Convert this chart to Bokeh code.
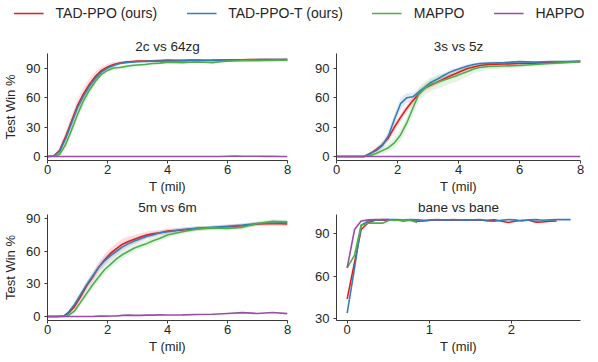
from bokeh.plotting import figure
from bokeh.layouts import column, row
from bokeh.models import Legend, LegendItem, FixedTicker, Range1d
from bokeh.embed import file_html
from bokeh.resources import INLINE

# ---------------- data ----------------
methods = ["TAD-PPO (ours)", "TAD-PPO-T (ours)", "MAPPO", "HAPPO"]
colors = ["#e41a1c", "#377eb8", "#4daf4a", "#984ea3"]

# 2c vs 64zg
x_2c = [0, 0.2, 0.4, 0.6, 0.8, 1.0, 1.2, 1.4, 1.6, 1.8, 2.0, 2.2, 2.4, 2.6, 2.8, 3.0, 3.25, 3.5,
        3.75, 4, 4.25, 4.5, 4.75, 5, 5.25, 5.5, 5.75, 6, 6.25, 6.5, 6.75, 7, 7.25, 7.5, 7.75, 8]
red_2c = [0, 0.5, 6, 20, 36, 52, 64, 74, 82, 88, 91.5, 94, 95.5, 96.5, 97, 97.5, 97.6, 97.8,
          98.2, 98.5, 98.3, 98.4, 98.6, 98.6, 98.4, 98.5, 98.7, 98.8, 98.9, 98.9, 99, 99, 99.1, 99, 99.2, 99.2]
blue_2c = [0, 0.5, 5, 18, 34, 50, 62, 72, 80, 86.5, 90.5, 93, 95, 96, 96.5, 97, 97.2, 97.5,
           97.5, 97.6, 97.7, 97.8, 97.9, 98, 98.1, 98.2, 98.3, 98.5, 98.6, 98.8, 98.9, 99, 99.1, 99.2, 99.2, 99.3]
green_2c = [0, 0.2, 2, 12, 27, 43, 57, 68, 77, 84, 88, 90.5, 91, 92, 93, 93.5, 94, 95,
            95.5, 96.5, 96.2, 96, 96.3, 96.5, 96.3, 96, 96.8, 97.5, 97.8, 98, 98, 98, 98.2, 98.3, 98.4, 98.5]
purple_2c = [0, 0, 0, 0, 0, 0, 0, 0, 0, 0, 0, 0, 0, 0, 0, 0, 0, 0,
             0, 0, 0, 0, 0, 0, 0, 0, 0, 0.3, 0.4, 0.3, 0.2, 0.2, 0.1, 0.1, 0, 0]
red_sd_2c = [0, 0.5, 3, 5, 6, 6.5, 6.5, 6, 5, 4, 3, 2.5, 2, 1.5, 1, 1, 1, 1,
             1, 1, 1, 1, 1, 1, 1, 1, 1, 1, 1, 1, 1, 1, 1, 1, 1, 1]
blue_sd_2c = [0, 0.5, 2, 3, 3.5, 3.5, 3.5, 3, 2.5, 2, 1.5, 1.2, 1, 1, 1, 1, 1, 1,
              1, 1, 1, 1, 1, 1, 1, 1, 1, 1, 1, 1, 1, 1, 1, 1, 1, 1]
green_sd_2c = [0, 0.3, 2, 4, 5, 5, 5, 4.5, 4, 3, 2.5, 2, 2, 1.5, 1.5, 1.5, 1.5, 1.5,
               1.5, 1.5, 1, 1, 1, 1, 1, 1, 1, 1, 1, 1, 1, 1, 1, 1, 1, 1]

# 3s vs 5z
x_3s = [0, 0.5, 0.9, 1.1, 1.3, 1.5, 1.7, 1.9, 2.1, 2.3, 2.5, 2.7, 2.9, 3.1, 3.3, 3.5, 3.7, 3.9,
        4.1, 4.3, 4.5, 4.7, 5.0, 5.5, 6.0, 6.5, 7.0, 7.5, 8.0]
red_3s = [0, 0, 0, 3, 7, 12, 19, 30, 40, 49, 57, 64, 70, 73, 76, 79, 82, 84.5,
          87.5, 90, 91.5, 93, 94, 94.5, 95, 95.5, 96, 96.5, 97]
blue_3s = [0, 0, 0, 3, 6, 11, 21, 38, 54, 60, 61, 66, 71, 76, 79, 82.5, 86, 88.5,
           90.5, 92.5, 94, 95, 95.5, 96, 97, 96.5, 97, 97, 97.5]
green_3s = [0, 0, 0, 1, 3, 6, 9, 14, 22, 34, 49, 64, 70, 74, 76, 78, 80, 82,
            84.5, 87, 89.5, 91, 92, 92.5, 93, 94, 95, 96, 97]
purple_3s = [0, 0, 0, 0, 0, 0, 0, 0, 0, 0, 0, 0, 0, 0, 0, 0, 0, 0,
             0, 0, 0, 0, 0, 0, 0, 0, 0, 0, 0]
red_sd_3s = [0, 0, 0, 1.5, 2.5, 3, 3.5, 4, 4, 4, 4, 3.5, 3, 3, 3, 2.5, 2.5, 2.5,
             2, 2, 2, 1.5, 1.5, 1.5, 1.5, 1, 1, 1, 1]
blue_sd_3s = [0, 0, 0, 1.5, 2.5, 3.5, 5, 6, 6, 5, 4, 3.5, 3, 3, 3, 2.5, 2.5, 2,
              2, 2, 1.5, 1.5, 1.5, 1, 1, 1, 1, 1, 1]
green_sd_3s = [0, 0, 0, 1, 2, 3, 4, 5, 6, 6, 7, 7, 7, 7, 7, 6.5, 6, 6,
               5.5, 5, 4.5, 4, 3, 2.5, 2, 2, 2, 1.5, 1.5]

# 5m vs 6m
x_5m = [0, 0.3, 0.55, 0.7, 0.9, 1.1, 1.3, 1.5, 1.7, 1.9, 2.1, 2.3, 2.5, 2.7, 2.9, 3.1, 3.3, 3.5,
        3.75, 4, 4.5, 5, 5.5, 6, 6.5, 7, 7.5, 8]
red_5m = [0, 0, 0.5, 3, 9, 18, 28, 36, 45, 52, 58, 62.5, 66.5, 69, 71, 73, 75, 76,
          77, 78.5, 79.5, 81, 81.5, 82.5, 83.5, 85, 85.5, 85]
blue_5m = [0, 0, 0.5, 4, 11, 20, 29, 37, 45, 51, 56, 60, 64, 67, 69.5, 71.5, 73.5, 75,
           77, 78, 80, 81, 82, 83, 84, 85.5, 86, 86.5]
green_5m = [0, 0, 0, 1, 5, 13, 21, 29, 36, 43, 48, 53, 57, 60, 63, 65, 67, 69.5,
            72, 75, 78, 80.5, 81.5, 81, 82, 85.5, 87.5, 87]
purple_5m = [0, 0, 0, 0, 0, 0, 0, 0, 0.3, 0.3, 0.5, 0.5, 1, 1.2, 1, 1, 1.2, 1.2,
             1.5, 1.3, 1.5, 1.8, 2, 2.8, 3.5, 2.8, 3.6, 2.6]
red_sd_5m = [0, 0, 0.5, 1.5, 2.5, 3, 3.5, 4, 4.5, 5, 5, 5, 5, 4.5, 4, 3.5, 3, 3,
             2.5, 2.5, 2, 2, 2, 2, 2, 2, 2, 2]
blue_sd_5m = [0, 0, 0.5, 1.5, 2.5, 3, 3.5, 4, 4, 4, 4, 4, 3.5, 3.5, 3, 3, 2.5, 2.5,
              2, 2, 2, 2, 1.5, 1.5, 1.5, 1.5, 1.5, 1.5]
green_sd_5m = [0, 0, 0, 1, 2, 3, 3.5, 4, 4, 4, 4, 4, 4, 3.5, 3.5, 3, 3, 3,
               2.5, 2.5, 2, 2, 2, 2, 2, 2, 2, 2]

# bane vs bane
x_bane = [0, 0.09, 0.17, 0.26, 0.34, 0.43, 0.51, 0.6, 0.68, 0.77, 0.85, 0.94, 1.02, 1.11, 1.19,
          1.28, 1.36, 1.45, 1.53, 1.62, 1.7, 1.79, 1.87, 1.96, 2.04, 2.13, 2.21, 2.3, 2.38, 2.47,
          2.55, 2.64, 2.72]
red_bane = [44, 70, 93, 98, 99.5, 99.8, 99.5, 99.8, 99, 99.5, 98.8, 99, 99.5, 99.5, 99.8,
            99.5, 99.5, 99.8, 99.5, 99.8, 99.5, 99.8, 99, 98, 98.8, 99.5, 99.5, 98.2, 98.3, 98.8,
            99]
blue_bane = [34, 66, 96, 99, 99.5, 100, 100, 100, 99.8, 100, 99.8, 99.5, 99.8, 100, 99.5,
             100, 99.8, 99.5, 99.8, 100, 99, 98.8, 99.5, 100, 99.8, 99, 99.8, 100, 99.5, 99.8,
             100, 100, 100]
green_bane = [66, 75, 96, 97.5, 97.5, 97.5, 99.5, 99.5, 99.5, 99.5, 98]
purple_bane = [66, 93, 99, 99.8, 100, 100, 100]

# ---------------- style ----------------
FONT = "Liberation Sans"
TXT = "#262626"
AXC = "#3a3a3a"
LW = 1.6


def band(y, sd, sign):
    return [a + sign * b for a, b in zip(y, sd)]


def panel(title, series, xr, yr, xticks, yticks, width, height, mb, ylabel):
    p = figure(width=width, height=height, x_range=Range1d(*xr), y_range=Range1d(*yr),
               toolbar_location=None, output_backend="svg",
               min_border_left=mb[0], min_border_right=mb[1],
               min_border_top=mb[2], min_border_bottom=mb[3])
    p.outline_line_color = None
    p.grid.visible = False
    p.background_fill_color = "white"
    p.border_fill_color = "white"
    p.title.text = title
    p.title.align = "center"
    p.title.text_font = FONT
    p.title.text_font_size = "13.5px"
    p.title.text_font_style = "normal"
    p.title.text_color = TXT
    if "standoff" in p.title.properties():
        p.title.standoff = 0
    for x, y, sd, c in series:
        if sd is not None:
            p.varea(x=x, y1=band(y, sd, -1), y2=band(y, sd, 1), fill_color=c, fill_alpha=0.15)
    for x, y, sd, c in series:
        p.line(x, y, line_color=c, line_width=LW)
    p.xaxis.ticker = FixedTicker(ticks=xticks)
    p.yaxis.ticker = FixedTicker(ticks=yticks)
    p.xaxis.axis_label = "T (mil)"
    if ylabel:
        p.yaxis.axis_label = "Test Win %"
    for ax in (p.xaxis[0], p.yaxis[0]):
        ax.axis_line_color = AXC
        ax.axis_line_width = 1
        ax.major_tick_line_color = AXC
        ax.major_tick_out = 3
        ax.major_tick_in = 0
        ax.minor_tick_line_color = None
        ax.major_label_text_font = FONT
        ax.major_label_text_font_size = "13px"
        ax.major_label_text_color = TXT
        ax.axis_label_text_font = FONT
        ax.axis_label_text_font_size = "13px"
        ax.axis_label_text_font_style = "normal"
        ax.axis_label_text_color = TXT
    p.xaxis.major_label_standoff = 1
    p.xaxis.axis_label_standoff = 2
    p.yaxis.major_label_standoff = 4
    p.yaxis.axis_label_standoff = 5
    return p


def four(x, ys, sds):
    return [(x, y, sd, c) for y, sd, c in zip(ys, sds, colors)]


W1, W2 = 302, 296
LEG_H = 32
H1, H2 = 165, 165

p1 = panel("2c vs 64zg",
           four(x_2c, [red_2c, blue_2c, green_2c, purple_2c], [red_sd_2c, blue_sd_2c, green_sd_2c, None]),
           (0, 8), (-4.1, 105.3), [0, 2, 4, 6, 8], [0, 30, 60, 90], W1, H1, (43, 15, 21, 37), True)
p2 = panel("3s vs 5z",
           four(x_3s, [red_3s, blue_3s, green_3s, purple_3s], [red_sd_3s, blue_sd_3s, green_sd_3s, None]),
           (0, 8), (-4.1, 105.3), [0, 2, 4, 6, 8], [0, 30, 60, 90], W2, H1, (34, 18, 21, 37), False)
p3 = panel("5m vs 6m",
           four(x_5m, [red_5m, blue_5m, green_5m, purple_5m], [red_sd_5m, blue_sd_5m, green_sd_5m, None]),
           (0, 8), (-3.7, 93.8), [0, 2, 4, 6, 8], [0, 30, 60, 90], W1, H2, (43, 15, 17, 42), True)
bane_series = [(x_bane[:len(red_bane)], red_bane, None, colors[0]),
               (x_bane[:len(blue_bane)], blue_bane, None, colors[1]),
               (x_bane[:len(green_bane)], green_bane, None, colors[2]),
               (x_bane[:len(purple_bane)], purple_bane, None, colors[3])]
p4 = panel("bane vs bane", bane_series,
           (-0.13, 2.84), (28.8, 103.6), [0, 1, 2], [30, 60, 90], W2, H2, (34, 18, 17, 42), False)

# legend strip
nan = float("nan")
pl = figure(width=W1 + W2, height=LEG_H, x_range=(0, 1), y_range=(0, 1),
            toolbar_location=None, output_backend="svg", x_axis_type=None, y_axis_type=None,
            min_border=0)
pl.outline_line_color = None
pl.grid.visible = False
items = []
for m, c in zip(methods, colors):
    r = pl.line(x=[nan, nan], y=[nan, nan], line_color=c, line_width=LW)
    items.append(LegendItem(label=m, renderers=[r]))
leg = Legend(items=items, orientation="horizontal", location="top_center",
             glyph_width=30, glyph_height=14, label_height=14, label_standoff=12, spacing=29,
             padding=0, margin=5, border_line_color=None, background_fill_alpha=0,
             label_text_font=FONT, label_text_font_size="14px", label_text_color=TXT)
pl.add_layout(leg, "center")

layout = column(pl, row(p1, p2), row(p3, p4))

open("out.html", "w").write(file_html(layout, INLINE))
